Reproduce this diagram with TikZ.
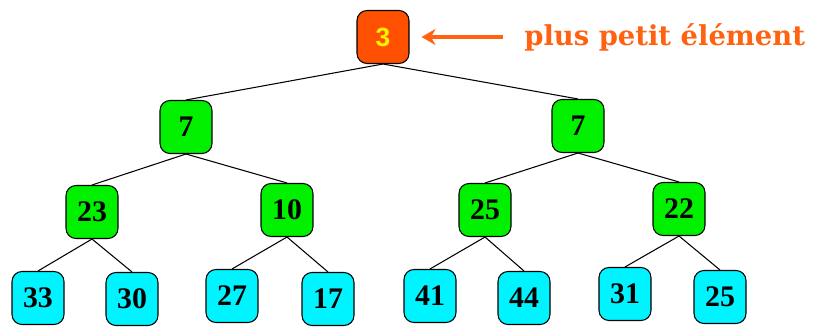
\documentclass[tikz,border=0pt]{standalone}
\usepackage{fontspec}
\setmainfont{Liberation Serif}
\newfontfamily\rootfont{Liberation Sans}
\newfontfamily\notefont{DejaVu Serif}
\usetikzlibrary{positioning,arrows.meta}

\definecolor{rootred}{HTML}{FF4F00}
\definecolor{noteorange}{HTML}{FF6210}
\definecolor{innergreen}{HTML}{00F000}
\definecolor{leafcyan}{HTML}{00F4FF}

\tikzset{
  cell/.style={draw=black, line width=0.6pt, rounded corners=0.2cm,
    minimum width=1.04cm, minimum height=1.06cm, inner sep=0pt,
    font=\fontsize{17}{17}\selectfont\bfseries},
  innercell/.style={cell, fill=innergreen},
  leafcell/.style={cell, fill=leafcyan},
  edge/.style={line width=0.6pt}
}

\begin{document}
\begin{tikzpicture}[x=0.02cm,y=-0.02cm,>=Stealth]
\useasboundingbox (0,0) rectangle (814,327);

% root
\node[cell, fill=rootred, text=yellow, font=\rootfont\fontsize{15}{15}\selectfont\bfseries] (r) at (383,37) {3};

% inner levels
\node[innercell] (a) at (186,127) {7};
\node[innercell] (b) at (578,126) {7};
\node[innercell] (a1) at (92,212) {23};
\node[innercell] (a2) at (287,210) {10};
\node[innercell] (b1) at (485,210) {25};
\node[innercell] (b2) at (679,209) {22};

% leaves
\node[leafcell] (a11) at (38,298) {33};
\node[leafcell] (a12) at (132,299) {30};
\node[leafcell] (a21) at (232,296) {27};
\node[leafcell] (a22) at (328,299) {17};
\node[leafcell] (b11) at (430,296) {41};
\node[leafcell] (b12) at (524,298) {44};
\node[leafcell] (b21) at (625,294) {31};
\node[leafcell] (b22) at (720,297) {25};

\foreach \p/\c in {r/a,r/b,a/a1,a/a2,b/b1,b/b2,
                   a1/a11,a1/a12,a2/a21,a2/a22,b1/b11,b1/b12,b2/b21,b2/b22}
  \draw[edge] (\p.south) -- (\c.north);

% note on the minimum
\node[anchor=base west, inner sep=0pt, text=noteorange,
  font=\notefont\fontsize{15.6}{15.6}\selectfont\bfseries] (note) at (524,46) {plus petit élément};
\coordinate (tail) at (503,37);
\draw[->, noteorange, line width=2pt, shorten >=0.24cm,
  arrows={-Stealth[length=0.28cm, width=0.32cm]}] (tail) -- (r.east);

\end{tikzpicture}
\end{document}
